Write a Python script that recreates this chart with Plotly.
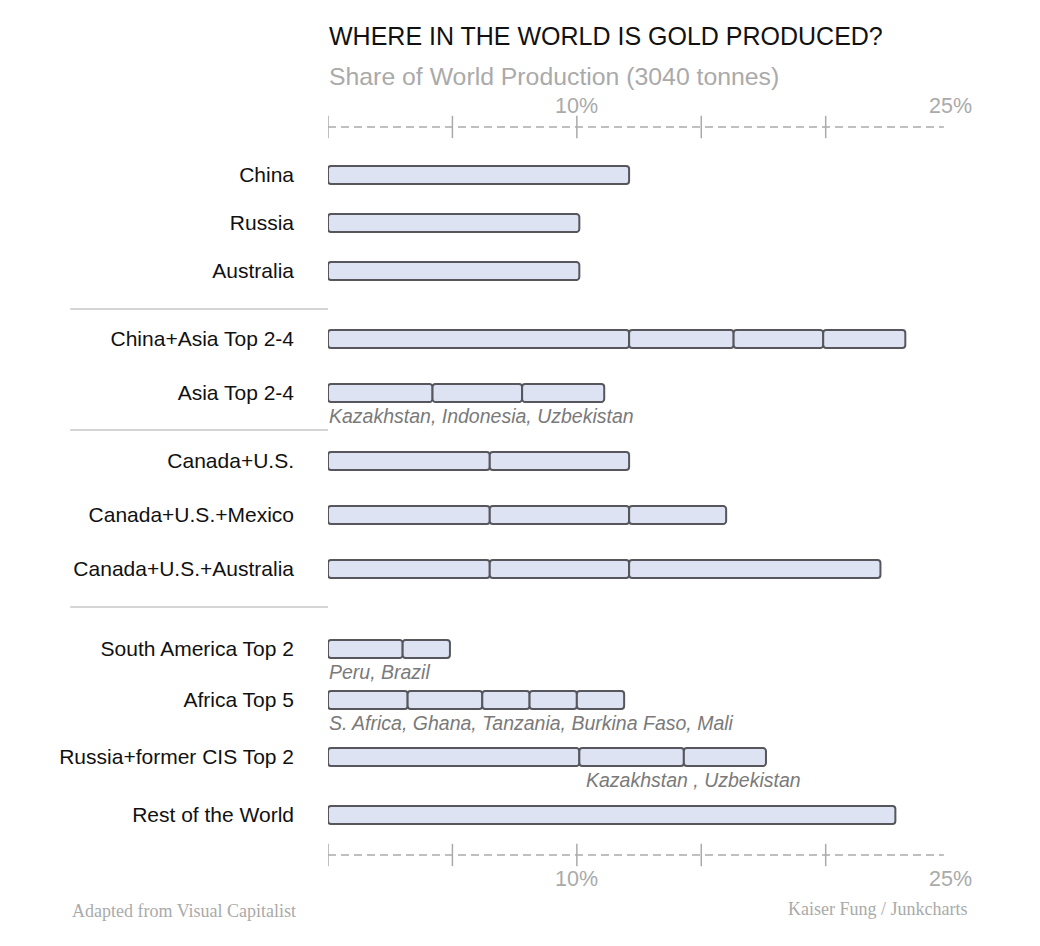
import plotly.graph_objects as go

# ---------------- data ----------------
TITLE = "WHERE IN THE WORLD IS GOLD PRODUCED?"
SUBTITLE = "Share of World Production (3040 tonnes)"

categories = [
    "China", "Russia", "Australia",
    "China+Asia Top 2-4", "Asia Top 2-4",
    "Canada+U.S.", "Canada+U.S.+Mexico", "Canada+U.S.+Australia",
    "South America Top 2", "Africa Top 5", "Russia+former CIS Top 2",
    "Rest of the World",
]

# share of world production (%) for each stacked segment of each row
china = [12.1]
russia = [10.1]
australia = [10.1]
china_asia_top = [12.1, 4.2, 3.6, 3.3]
asia_top = [4.2, 3.6, 3.3]
canada_us = [6.5, 5.6]
canada_us_mexico = [6.5, 5.6, 3.9]
canada_us_australia = [6.5, 5.6, 10.1]
south_america_top = [3.0, 1.9]
africa_top = [3.2, 3.0, 1.9, 1.9, 1.9]
cis_top = [10.1, 4.2, 3.3]
rest_of_world = [22.8]

segments = [china, russia, australia, china_asia_top, asia_top, canada_us,
            canada_us_mexico, canada_us_australia, south_america_top,
            africa_top, cis_top, rest_of_world]

# notes under rows: (row name, index of segment where the note starts, text)
notes = [
    ("Asia Top 2-4", 0, "Kazakhstan, Indonesia, Uzbekistan"),
    ("South America Top 2", 0, "Peru, Brazil"),
    ("Africa Top 5", 0, "S. Africa, Ghana, Tanzania, Burkina Faso, Mali"),
    ("Russia+former CIS Top 2", 1, "Kazakhstan , Uzbekistan"),
]

axis_tick_values = [0, 5, 10, 15, 20]
axis_label_values = [10, 25]
axis_label_text = ["10%", "25%"]
axis_end = 24.75

# ---------------- layout (page pixel positions) ----------------
W, H = 1040, 946
OFF = 8                      # page body margin
PLOT_LEFT = 328              # page x of 0%
PX_PER_UNIT = 24.9
X_MAX = 26
ROW_Y = [175, 223, 271, 339, 393, 461, 515, 569, 649, 700, 757, 815]
SEPARATOR_Y = [309, 430, 607]
NOTE_DY = 23
AXIS_TOP_Y, AXIS_BOTTOM_Y = 127, 855
LABEL_TOP_Y, LABEL_BOTTOM_Y = 106, 879
BAR_H = 18

FILL = "#dde3f2"
EDGE = "#56565c"
GREY = "#aaaaaa"
FONT = "Liberation Sans, Arial, sans-serif"
SERIF = "Liberation Serif, Times New Roman, serif"

plot_w = X_MAX * PX_PER_UNIT
margin_l = PLOT_LEFT - OFF
margin_r = W - margin_l - plot_w


def paper_x(px):
    return (px - PLOT_LEFT) / plot_w


# build the bar segments
bx, bbase, by = [], [], []
for row_y, segs in zip(ROW_Y, segments):
    start = 0.0
    for v in segs:
        bx.append(v)
        bbase.append(start)
        by.append(row_y)
        start += v

fig = go.Figure()
fig.add_trace(go.Bar(
    x=bx, base=bbase, y=by, orientation="h", width=BAR_H,
    marker=dict(color=FILL, line=dict(color=EDGE, width=2), cornerradius=3),
    hoverinfo="x", showlegend=False,
))

# axis lines (top & bottom) drawn from the tick arrays
for ay in (AXIS_TOP_Y, AXIS_BOTTOM_Y):
    fig.add_trace(go.Scatter(
        x=[0, axis_end], y=[ay, ay], mode="lines",
        line=dict(color=GREY, width=1.5, dash="8px,5px"),
        hoverinfo="skip", showlegend=False,
    ))
    fig.add_trace(go.Scatter(
        x=axis_tick_values, y=[ay] * len(axis_tick_values), mode="markers",
        marker=dict(symbol="line-ns", size=16, line=dict(color=GREY, width=1.5)),
        hoverinfo="skip", showlegend=False,
    ))

annotations = []
for ly in (LABEL_TOP_Y, LABEL_BOTTOM_Y):
    for v, t in zip(axis_label_values, axis_label_text):
        annotations.append(dict(
            x=v, y=ly, xref="x", yref="y", text=t, showarrow=False,
            font=dict(family=FONT, size=21.5, color=GREY),
        ))

# notes
for name, seg_idx, text in notes:
    i = categories.index(name)
    start = sum(segments[i][:seg_idx])
    annotations.append(dict(
        x=start, y=ROW_Y[i] + NOTE_DY, xref="x", yref="y", text=text,
        showarrow=False, xanchor="left", yanchor="middle",
        xshift=(5 if seg_idx > 0 else -1),
        font=dict(family=FONT, size=19.5, color="#7a7a7a", style="italic"),
    ))

# titles
annotations.append(dict(
    x=0, y=36, xref="x", yref="y", text=TITLE, showarrow=False,
    xanchor="left", yanchor="middle", xshift=-1,
    font=dict(family=FONT, size=25, color="#111111"),
))
annotations.append(dict(
    x=0, y=76, xref="x", yref="y", text=SUBTITLE, showarrow=False,
    xanchor="left", yanchor="middle", xshift=-1,
    font=dict(family=FONT, size=24.8, color=GREY),
))

# footers
annotations.append(dict(
    x=paper_x(70), y=911, xref="paper", yref="y",
    text="Adapted from Visual Capitalist", showarrow=False,
    xanchor="left", yanchor="middle",
    font=dict(family=SERIF, size=18, color=GREY),
))
annotations.append(dict(
    x=paper_x(969), y=909, xref="paper", yref="y",
    text="Kaiser Fung / Junkcharts", showarrow=False,
    xanchor="right", yanchor="middle",
    font=dict(family=SERIF, size=18, color=GREY),
))

shapes = []
for sy in SEPARATOR_Y:
    shapes.append(dict(
        type="line", xref="paper", yref="y",
        x0=paper_x(70), x1=0, y0=sy, y1=sy,
        line=dict(color=GREY, width=1),
    ))

fig.update_layout(
    width=W, height=H,
    margin=dict(l=margin_l, r=margin_r, t=0, b=0, pad=0),
    paper_bgcolor="white", plot_bgcolor="white",
    barmode="overlay",
    xaxis=dict(range=[0, X_MAX], visible=False, fixedrange=True),
    yaxis=dict(
        range=[H + OFF, OFF], tickmode="array", tickvals=ROW_Y, ticktext=categories,
        showgrid=False, zeroline=False, showline=False, ticks="",
        ticklabelstandoff=33, fixedrange=True,
        tickfont=dict(family=FONT, size=21, color="#111111"),
    ),
    annotations=annotations,
    shapes=shapes,
    font=dict(family=FONT),
)

fig.write_html("out.html")
